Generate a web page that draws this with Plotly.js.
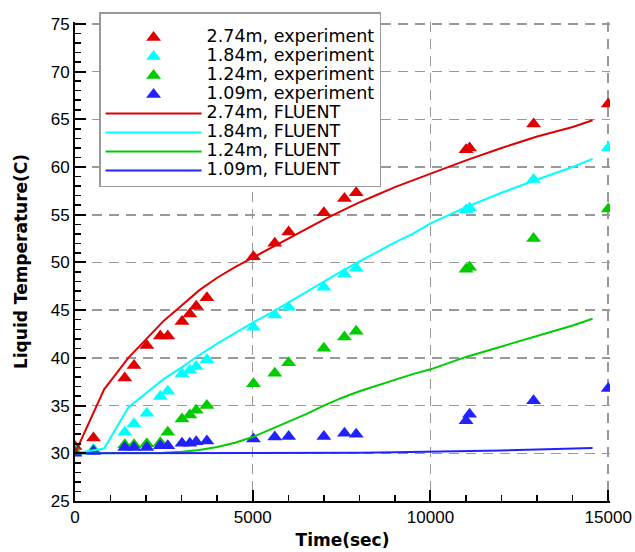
<!DOCTYPE html>
<html><head><meta charset="utf-8">
<script src="https://cdn.plot.ly/plotly-3.0.1.min.js"></script>
<style>
html,body{margin:0;padding:0;background:#fff}
#chart{width:635px;height:552px}
text.legendtext{font-size:17.5px !important}
</style></head><body><div id="chart"></div><script>
// Experiment sample times (sec)
const expTime = [0, 520, 1400, 1660, 2020, 2400, 2610, 3010, 3230, 3410, 3710, 5020, 5620, 6010, 7000, 7580, 7910, 11000, 11100, 12900, 15000];
const exp274 = [30.7, 31.6, 37.9, 39.2, 41.3, 42.3, 42.3, 43.8, 44.6, 45.4, 46.3, 50.6, 52.0, 53.2, 55.2, 56.7, 57.3, 61.8, 62.0, 64.5, 66.6];
const exp184 = [30.3, 30.4, 32.2, 33.1, 34.2, 35.95, 36.5, 38.3, 38.7, 39.1, 39.8, 43.2, 44.5, 45.3, 47.4, 48.8, 49.4, 55.5, 55.7, 58.7, 62.0];
const exp124 = [30.2, 30.3, 30.9, 30.9, 31.0, 31.1, 32.2, 33.6, 34.0, 34.5, 35.0, 37.3, 38.4, 39.5, 41.0, 42.2, 42.8, 49.3, 49.5, 52.5, 55.6];
const exp109 = [30.0, 30.2, 30.6, 30.6, 30.6, 30.8, 30.8, 31.05, 31.05, 31.2, 31.3, 31.5, 31.7, 31.75, 31.75, 32.1, 32.0, 33.4, 34.1, 35.5, 36.8];

// FLUENT simulation curves
const ft274Time = [0, 820, 1500, 2000, 2500, 3000, 3500, 4000, 4500, 5000, 5500, 6000, 6500, 7000, 7500, 8000, 8500, 9000, 9500, 10000, 11000, 12000, 13000, 14000, 14560];
const ft274 = [30.0, 36.7, 40.0, 42.0, 43.9, 45.5, 47.1, 48.4, 49.5, 50.5, 51.5, 52.5, 53.5, 54.5, 55.4, 56.3, 57.1, 57.9, 58.6, 59.3, 60.7, 62.0, 63.2, 64.2, 64.9];
const ft184Time = [0, 820, 1500, 2000, 2500, 3000, 3500, 4000, 4500, 5000, 5500, 6000, 6500, 7000, 7500, 8000, 8500, 9000, 9500, 10000, 11000, 12000, 13000, 14000, 14560];
const ft184 = [30.0, 30.5, 34.8, 36.3, 37.8, 39.0, 40.3, 41.5, 42.6, 43.7, 44.7, 45.8, 46.9, 48.0, 49.1, 50.1, 51.1, 52.1, 53.0, 54.1, 55.8, 57.3, 58.7, 60.0, 60.85];
const ft124Time = [0, 2500, 3000, 3500, 4000, 4500, 5000, 5500, 6000, 6500, 7000, 7500, 8000, 8500, 9000, 9500, 10000, 11000, 12000, 13000, 14000, 14560];
const ft124 = [30.0, 30.05, 30.15, 30.35, 30.65, 31.1, 31.7, 32.5, 33.3, 34.1, 35.0, 35.8, 36.5, 37.1, 37.7, 38.3, 38.8, 40.1, 41.2, 42.3, 43.4, 44.1];
const ft109Time = [0, 4000, 8000, 9000, 10000, 11000, 12000, 13000, 14000, 14560];
const ft109 = [30.0, 30.0, 30.05, 30.1, 30.15, 30.2, 30.3, 30.4, 30.5, 30.55];

const names = ['2.74m', '1.84m', '1.24m', '1.09m'];
const colors = ['#e00000', '#00ffff', '#00cc00', '#2222ff'];
const expSeries = [exp274, exp184, exp124, exp109];
const ftTimes = [ft274Time, ft184Time, ft124Time, ft109Time];
const ftSeries = [ft274, ft184, ft124, ft109];

const traces = [];
expSeries.forEach((ys, i) => traces.push({
  x: expTime, y: ys, type: 'scatter', mode: 'markers',
  name: names[i] + ', experiment',
  marker: {symbol: 'triangle-up', size: 13, color: colors[i]}
}));
ftSeries.forEach((ys, i) => traces.push({
  x: ftTimes[i], y: ys, type: 'scatter', mode: 'lines',
  name: names[i] + ', FLUENT',
  line: {color: colors[i], width: 2}
}));

const axisCommon = {
  showline: true, linecolor: '#000', linewidth: 2,
  ticks: 'inside', ticklen: 11, tickwidth: 2, tickcolor: '#000',
  showgrid: true, gridcolor: '#999', gridwidth: 1.5, griddash: '10px,7px',
  zeroline: false, tickformat: 'd',
  tickfont: {family: 'Liberation Sans, Arial, sans-serif', size: 17, color: '#000'}
};

const layout = {
  width: 635, height: 552,
  margin: {l: 75, r: 25, t: 18, b: 51},
  paper_bgcolor: '#fff', plot_bgcolor: '#fff',
  showlegend: true,
  xaxis: Object.assign({}, axisCommon, {
    range: [0, 15050], dtick: 5000, tick0: 0,
    minor: {dtick: 1000, ticks: 'inside', ticklen: 6, tickwidth: 1.5, tickcolor: '#000', showgrid: false},
    title: {text: 'Time(sec)', standoff: 8, font: {family: 'DejaVu Sans', size: 17, weight: 'bold', color: '#000'}}
  }),
  yaxis: Object.assign({}, axisCommon, {
    range: [25, 75.2], dtick: 5, tick0: 25,
    minor: {dtick: 1, ticks: 'inside', ticklen: 6, tickwidth: 1.5, tickcolor: '#000', showgrid: false},
    title: {text: 'Liquid Temperature(C)', standoff: 19, font: {family: 'DejaVu Sans', size: 17, weight: 'bold', color: '#000'}}
  }),
  legend: {
    x: 0.045, y: 1.02, xanchor: 'left', yanchor: 'top',
    bgcolor: '#fff', bordercolor: '#999', borderwidth: 1.5,
    font: {family: 'DejaVu Sans', size: 12.2, color: '#000'},
    title: {text: ' ', font: {size: 7}},
    itemwidth: 96, tracegroupgap: 0
  }
};

Plotly.newPlot('chart', traces, layout, {displayModeBar: false, staticPlot: true});
</script></body></html>
